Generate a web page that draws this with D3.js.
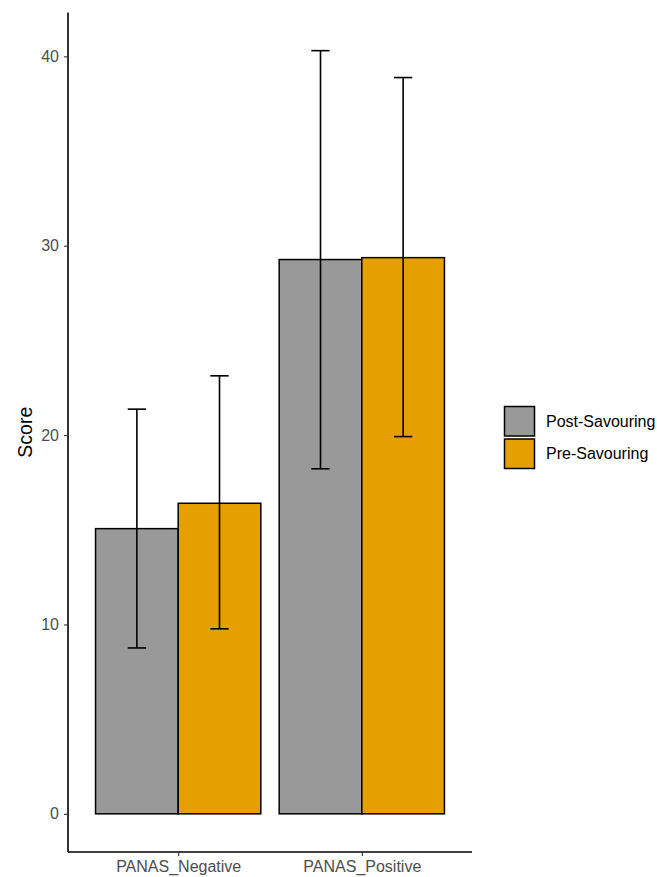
<!DOCTYPE html>
<html>
<head>
<meta charset="utf-8">
<script src="https://cdn.jsdelivr.net/npm/d3@7"></script>
<style>
  body { margin: 0; background: #fff; }
  svg { display: block; font-family: "Liberation Sans", Arial, sans-serif; }
</style>
</head>
<body>
<svg id="chart" width="657" height="877"></svg>
<script>
const categories = ["PANAS_Negative", "PANAS_Positive"];
const groups = ["Post-Savouring", "Pre-Savouring"];
const groupColors = ["#999999", "#E69F00"];
const meanValues = {
  "Post-Savouring": [15.06, 29.27],
  "Pre-Savouring": [16.40, 29.37]
};
const lowerValues = {
  "Post-Savouring": [8.76, 18.22],
  "Pre-Savouring": [9.77, 19.92]
};
const upperValues = {
  "Post-Savouring": [21.37, 40.30],
  "Pre-Savouring": [23.13, 38.88]
};
const yTicks = [0, 10, 20, 30, 40];

(function () {
const rows = [];
categories.forEach((c, i) => groups.forEach((g, j) => rows.push({
  cat: c, group: g, gi: j, mean: meanValues[g][i], lo: lowerValues[g][i], hi: upperValues[g][i]
})));

const svg = d3.select("#chart");
const pLeft = 68, pRight = 472, pTop = 12.5, pBottom = 852;

const yMax = d3.max(rows, d => d.hi);
const yMin = 0;
const span = yMax - yMin;
const y = d3.scaleLinear().domain([yMin - 0.05 * span, yMax + 0.05 * span]).range([pBottom, pTop]);

const unit = (pRight - pLeft) / (categories.length - 1 + 1.2);
const xc = c => pLeft + unit * (0.6 + categories.indexOf(c));
const barW = 0.45 * unit;
const capW = 0.1 * unit;

const color = d3.scaleOrdinal().domain(groups).range(groupColors);

svg.append("g").selectAll("rect").data(rows).join("rect")
  .attr("x", d => xc(d.cat) - 0.9 * unit / 2 + d.gi * barW)
  .attr("y", d => y(d.mean))
  .attr("width", barW)
  .attr("height", d => y(0) - y(d.mean))
  .attr("fill", d => color(d.group))
  .attr("stroke", "#000")
  .attr("stroke-width", 1.5);

const eb = svg.append("g").attr("stroke", "#000").attr("stroke-width", 1.6).attr("fill", "none");
rows.forEach(d => {
  const cx = xc(d.cat) - 0.9 * unit / 2 + d.gi * barW + barW / 2;
  eb.append("line").attr("x1", cx).attr("x2", cx).attr("y1", y(d.lo)).attr("y2", y(d.hi));
  eb.append("line").attr("x1", cx - capW / 2).attr("x2", cx + capW / 2).attr("y1", y(d.lo)).attr("y2", y(d.lo));
  eb.append("line").attr("x1", cx - capW / 2).attr("x2", cx + capW / 2).attr("y1", y(d.hi)).attr("y2", y(d.hi));
});

const yAxis = d3.axisLeft(y).tickValues(yTicks).tickSize(4).tickPadding(5).tickFormat(d3.format("d"));
const yg = svg.append("g").attr("transform", `translate(${pLeft},0)`).call(yAxis);
yg.select(".domain").attr("stroke", "#000").attr("stroke-width", 1.6).attr("d", `M0,${pTop}V${pBottom}`);
yg.selectAll(".tick line").attr("stroke", "#333").attr("stroke-width", 1.1);
yg.selectAll(".tick text").attr("fill", "#4D4D4D").style("font-size", "16px")
  .style("font-family", "'Liberation Sans', Arial, sans-serif");

const xScale = d3.scaleOrdinal().domain(categories).range(categories.map(xc));
const xAxis = d3.axisBottom(xScale).tickSize(4).tickPadding(5);
const xg = svg.append("g").attr("transform", `translate(0,${pBottom})`).call(xAxis);
xg.select(".domain").attr("stroke", "#000").attr("stroke-width", 1.6).attr("d", `M${pLeft},0H${pRight}`);
xg.selectAll(".tick line").attr("stroke", "#333").attr("stroke-width", 1.1);
xg.selectAll(".tick text").attr("fill", "#4D4D4D").style("font-size", "16px")
  .style("font-family", "'Liberation Sans', Arial, sans-serif");

svg.append("text")
  .attr("transform", `translate(32,${(pTop + pBottom) / 2}) rotate(-90)`)
  .attr("text-anchor", "middle")
  .style("font-size", "19.5px")
  .attr("fill", "#000")
  .text("Score");

const lg = svg.append("g").attr("transform", "translate(504,406)");
groups.forEach((g, i) => {
  const row = lg.append("g").attr("transform", `translate(0,${i * 32.5})`);
  row.append("rect").attr("x", 0.5).attr("y", 0.5).attr("width", 30).attr("height", 29.5)
    .attr("fill", color(g)).attr("stroke", "#000").attr("stroke-width", 1.5);
  row.append("text").attr("x", 42).attr("y", 15).attr("dy", "0.35em")
    .style("font-size", "16px").attr("fill", "#000").text(g);
});
})();
</script>
</body>
</html>
